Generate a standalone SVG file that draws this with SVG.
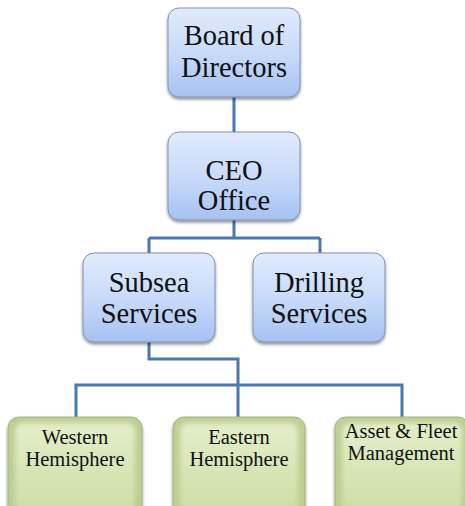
<svg xmlns="http://www.w3.org/2000/svg" width="465" height="506" viewBox="0 0 465 506">
  <defs>
    <linearGradient id="blueFill" x1="0" y1="0" x2="0" y2="1">
      <stop offset="0" stop-color="#e0ebfc"/>
      <stop offset="0.5" stop-color="#c9dbfa"/>
      <stop offset="1" stop-color="#a6c2f2"/>
    </linearGradient>
    <linearGradient id="greenFill" x1="0" y1="0" x2="0" y2="1">
      <stop offset="0" stop-color="#e4eec9"/>
      <stop offset="1" stop-color="#cddea6"/>
    </linearGradient>
    <filter id="shadow" x="-10%" y="-10%" width="125%" height="130%">
      <feDropShadow dx="0" dy="2" stdDeviation="1.6" flood-color="#000" flood-opacity="0.45"/>
    </filter>
    <filter id="soft" x="-10%" y="-10%" width="120%" height="120%">
      <feGaussianBlur stdDeviation="2.5"/>
    </filter>
  </defs>
  <style>
    .blue { fill: url(#blueFill); stroke: #7f93b3; stroke-width: 1; filter: url(#shadow); }
    .greenBase { fill: #bccf92; stroke: #a4b582; stroke-width: 1; filter: url(#shadow); }
    .greenTop { fill: url(#greenFill); filter: url(#soft); }
    text { font-family: 'Liberation Serif', 'DejaVu Serif', serif; fill: #111; text-anchor: middle; }
    .big { font-size: 28.5px; }
    .small { font-size: 20.5px; }
    .link { fill: none; stroke: #4a78b0; stroke-width: 3; }
  </style>

  <rect width="465" height="506" fill="#ffffff"/>

  <!-- connectors -->
  <g id="connectors">
    <path class="link" d="M234 97 V132"/>
    <path class="link" d="M234 220 V238 M149 238 H320 M149 238 V253 M320 238 V253"/>
    <path class="link" d="M149 342 V359 H238 V417"/>
    <path class="link" d="M76 417 V385 H402 V417"/>
  </g>

  <g id="board">
    <rect class="blue" x="168" y="8" width="132" height="89" rx="11"/>
    <text class="big" x="234" y="45">Board of</text>
    <text class="big" x="234" y="77">Directors</text>
  </g>

  <g id="ceo">
    <rect class="blue" x="168" y="132" width="132" height="88" rx="11"/>
    <text class="big" x="234" y="180">CEO</text>
    <text class="big" x="234" y="210">Office</text>
  </g>

  <g id="subsea">
    <rect class="blue" x="83" y="253" width="132" height="89" rx="11"/>
    <text class="big" x="149" y="292">Subsea</text>
    <text class="big" x="149" y="323">Services</text>
  </g>

  <g id="drilling">
    <rect class="blue" x="253" y="253" width="132" height="89" rx="11"/>
    <text class="big" x="319" y="292">Drilling</text>
    <text class="big" x="319" y="323">Services</text>
  </g>

  <g id="western">
    <rect class="greenBase" x="8" y="417" width="134" height="100" rx="11"/>
    <rect class="greenTop" x="15" y="423" width="120" height="88" rx="8"/>
    <text class="small" x="75" y="444">Western</text>
    <text class="small" x="75" y="466">Hemisphere</text>
  </g>

  <g id="eastern">
    <rect class="greenBase" x="173" y="417" width="132" height="100" rx="11"/>
    <rect class="greenTop" x="180" y="423" width="118" height="88" rx="8"/>
    <text class="small" x="239" y="444">Eastern</text>
    <text class="small" x="239" y="466">Hemisphere</text>
  </g>

  <g id="asset">
    <rect class="greenBase" x="335" y="417" width="134" height="100" rx="11"/>
    <rect class="greenTop" x="342" y="423" width="120" height="88" rx="8"/>
    <text class="small" x="401" y="438">Asset &amp; Fleet</text>
    <text class="small" x="401" y="460">Management</text>
  </g>
</svg>
